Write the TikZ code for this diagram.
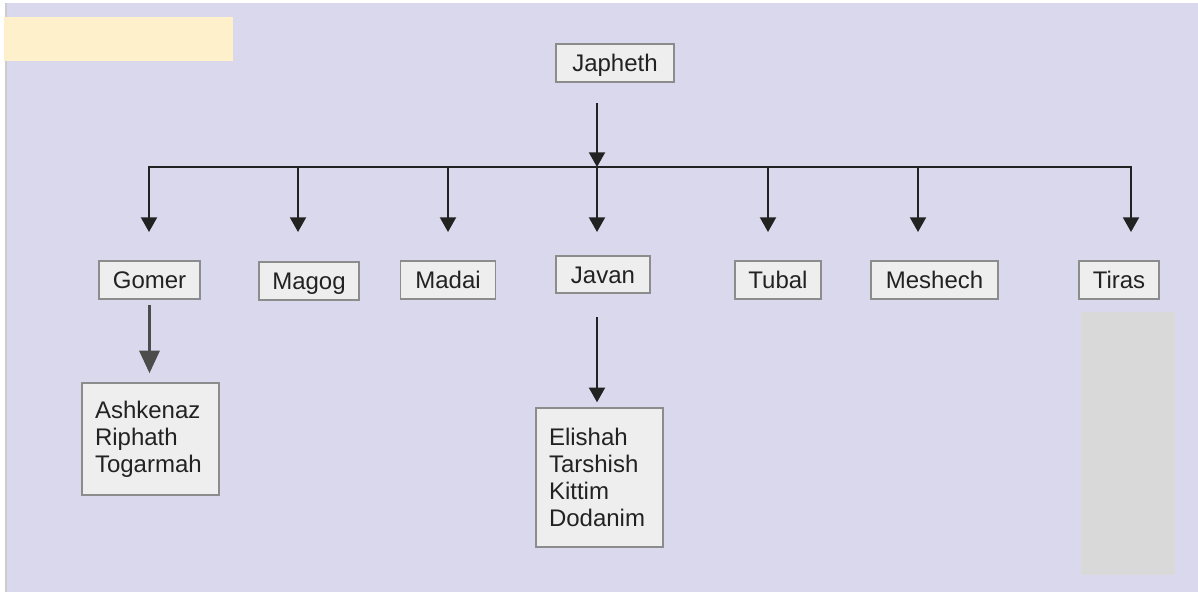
\documentclass[tikz,border=0pt]{standalone}
\usepackage{fontspec}
\setmainfont{Liberation Sans}
\usepackage{xcolor}
\definecolor{bglav}{RGB}{218,216,236}
\definecolor{notecream}{RGB}{255,240,204}
\definecolor{panelgray}{RGB}{217,217,217}
\definecolor{boxfill}{RGB}{238,238,238}
\definecolor{boxline}{RGB}{140,140,140}
\definecolor{inkdark}{RGB}{34,34,34}
\usepackage{tikz}
\usetikzlibrary{arrows.meta,positioning,calc}

\begin{document}
\begin{tikzpicture}[
  x=0.75pt, y=-0.75pt,
  font=\fontsize{18}{20.25}\selectfont,
  person/.style={rectangle, draw=boxline, line width=1.1pt, fill=boxfill, text=inkdark,
               inner sep=0pt, minimum height=28.5pt, text height=12.9pt, text depth=0pt},
  sons/.style={rectangle, draw=boxline, line width=1.1pt, fill=boxfill, text=inkdark,
               align=left, inner xsep=9.75pt, inner ysep=0pt},
  wire/.style={line width=1.5pt, draw=inkdark},
  arr/.style={-{Triangle[width=12pt,length=11pt]}, line width=1.5pt, draw=inkdark},
  bigarr/.style={-{Triangle[width=15pt,length=17pt]}, line width=2.5pt, draw=black!70}
]
%% Backdrop
\fill[white] (0,0) rectangle (1198,592);
\fill[bglav] (5,3) rectangle (1198,592);
\draw[black!20, line width=1.5pt] (5.5,3) -- (5.5,592);
\fill[notecream] (4,17) rectangle (233,61);
\fill[panelgray] (1081,312) rectangle (1175,575);

%% Father
\node[person, minimum width=88.5pt] (japheth) at (615,63) {Japheth};

%% Sons
\node[person, minimum width=75.75pt] (gomer) at (149.5,280) {Gomer};
\node[person, minimum width=75pt] (magog) at (309,281) {Magog};
\node[person, minimum width=71.25pt] (madai) at (448,280) {Madai};
\node[person, minimum width=70.5pt, minimum height=27.75pt] (javan) at (603,274.5) {Javan};
\node[person, minimum width=64.5pt] (tubal) at (778,280) {Tubal};
\node[person, minimum width=95.25pt] (meshech) at (934.5,280) {Meshech};
\node[person, minimum width=60pt] (tiras) at (1119,280) {Tiras};

%% Grandsons
\node[sons, text width=83.25pt, minimum height=84pt] (gomsons) at (150.5,439)
  {Ashkenaz\\Riphath\\Togarmah};
\node[sons, text width=75.75pt, minimum height=104.25pt] (javsons) at (599.5,477.5)
  {Elishah\\Tarshish\\Kittim\\Dodanim};

%% Bus and drops
\coordinate (jap-out) at (597,103);
\coordinate (busL) at (149,167);
\coordinate (busR) at (1131,167);
\draw[wire, line cap=rect] (busL) -- (busR);
\draw[arr] (jap-out) -- (jap-out |- busL);
\foreach \n/\x in {gomer/149, magog/298, madai/448, javan/597, tubal/768, meshech/918, tiras/1131}{
  \coordinate (\n-in) at (\x,232);
  \draw[arr] (busL -| \n-in) -- (\n-in);
}

%% Down to grandsons
\draw[bigarr, shorten <=3.75pt, shorten >=6.75pt] (gomer.south) -- (gomer.south |- gomsons.north);
\coordinate (javan-out) at (597,317);
\draw[arr, shorten >=3.75pt] (javan-out) -- (javan-out |- javsons.north);

\end{tikzpicture}
\end{document}
